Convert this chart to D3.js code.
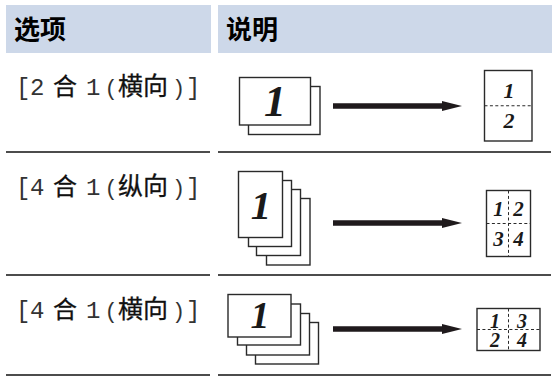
<!DOCTYPE html>
<html>
<head>
<meta charset="utf-8">
<script src="https://cdnjs.cloudflare.com/ajax/libs/d3/7.8.5/d3.min.js"></script>
<style>
  html, body { margin: 0; padding: 0; background: #fff; }
  svg { display: block; }
  .cjk { font-family: "Noto Sans CJK SC", sans-serif; }
  .mono { font-family: "Liberation Mono", monospace; }
  .digit { font-family: "Liberation Serif", serif; font-weight: bold; font-style: italic; fill: #1a1a1a; }
  .sheet { fill: #fff; stroke: #2a2a2a; stroke-width: 1.4; }
  .fold { stroke: #2a2a2a; stroke-width: 1; stroke-dasharray: 3 2.4; fill: none; }
</style>
</head>
<body>
<div id="svg_container"></div>
<script>
var headers = ['选项', '说明'];

// label of each row, split in runs because latin and cjk sizes differ
var optionLabels = [
  ['2', '横向'],
  ['4', '纵向'],
  ['4', '横向']
];
var stackDigit = ['1', '1', '1'];
var pageDigits = [['1', '2'], ['1', '2', '3', '4'], ['1', '3', '2', '4']];

var width = 552, height = 376;

var svg = d3.select('#svg_container')
  .append('svg')
    .attr('width', width)
    .attr('height', height);

// columns
var columns = [{x0: 6, x1: 211}, {x0: 218, x1: 552}];

// header band
svg.selectAll('rect.head')
  .data(columns)
  .enter().append('rect')
    .attr('class', 'head')
    .attr('x', function(d) { return d.x0; })
    .attr('y', 5)
    .attr('width', function(d) { return d.x1 - d.x0; })
    .attr('height', 48)
    .attr('fill', '#cdd8e9');

svg.selectAll('text.head')
  .data(headers)
  .enter().append('text')
    .attr('class', 'head cjk')
    .attr('x', function(d, i) { return columns[i].x0 + 8; })
    .attr('y', 38.5)
    .attr('font-size', 26)
    .attr('font-weight', 700)
    .text(function(d) { return d; });

// row rules
var ruleY = [152, 275, 375];
ruleY.forEach(function(y) {
  columns.forEach(function(c) {
    svg.append('line')
      .attr('x1', c.x0).attr('x2', c.x1 - 1)
      .attr('y1', y).attr('y2', y)
      .attr('stroke', '#111')
      .attr('stroke-width', 1.4);
  });
});

// option labels
var labelY = [94.5, 194.5, 318];
optionLabels.forEach(function(label, i) {
  var g = svg.append('g').attr('transform', 'translate(0,' + labelY[i] + ')');
  var runs = [
    {t: '[', x: 16, c: 'mono', s: 24},
    {t: label[0], x: 30, c: 'mono', s: 24},
    {t: '合', x: 53, c: 'cjk', s: 24},
    {t: '1', x: 86, c: 'mono', s: 24},
    {t: '(', x: 104.5, c: 'mono', s: 22},
    {t: label[1], x: 118, c: 'cjk', s: 25},
    {t: ')', x: 172, c: 'mono', s: 22},
    {t: ']', x: 186, c: 'mono', s: 24}
  ];
  g.selectAll('text')
    .data(runs)
    .enter().append('text')
      .attr('class', function(d) { return d.c; })
      .attr('x', function(d) { return d.x; })
      .attr('font-size', function(d) { return d.s; })
      .attr('fill', function(d) { return d.c === 'mono' ? '#333' : '#111'; })
      .attr('stroke', function(d) { return d.c === 'mono' ? 'none' : '#111'; })
      .attr('stroke-width', 0.3)
      .text(function(d) { return d.t; });
});

// stacks of source sheets, drawn back to front
var stacks = [
  {sheets: [[248.5, 86.5, 320, 134.5], [239.5, 77.5, 310.5, 125]], dx: 275, dy: 116, size: 44},
  {sheets: [[266.5, 198.5, 310, 265], [256.5, 189.5, 300.5, 255.5], [248.5, 180.5, 291.5, 246.5], [238.5, 171.5, 282.5, 237.5]], dx: 261, dy: 219, size: 41},
  {sheets: [[255.5, 322.5, 318.5, 364], [246.5, 313.5, 309.5, 355], [237.5, 304, 300.5, 345], [228, 294.5, 291, 337]], dx: 260, dy: 327.5, size: 38}
];

stacks.forEach(function(s, i) {
  svg.selectAll(null)
    .data(s.sheets)
    .enter().append('rect')
      .attr('class', 'sheet')
      .attr('x', function(d) { return d[0]; })
      .attr('y', function(d) { return d[1]; })
      .attr('width', function(d) { return d[2] - d[0]; })
      .attr('height', function(d) { return d[3] - d[1]; });
  svg.append('text')
    .attr('class', 'digit')
    .attr('x', s.dx)
    .attr('y', s.dy)
    .attr('text-anchor', 'middle')
    .attr('font-size', s.size)
    .text(stackDigit[i]);
});

// arrows
var arrowY = [106, 223, 329];
var line = d3.line();
arrowY.forEach(function(y) {
  svg.append('path')
    .attr('fill', '#1f1a1c')
    .attr('d', line([[333, y - 2.8], [442, y - 2.8], [442, y - 5], [462, y], [442, y + 5], [442, y + 2.8], [333, y + 2.8]]) + 'Z');
});

// result pages
var pages = [
  {x0: 484.5, x1: 532, y0: 70.5, y1: 141, vfold: false, size: 22, qx: [509], qy: [98.3, 127.5]},
  {x0: 486.5, x1: 530.5, y0: 190.5, y1: 256.5, vfold: true, size: 21, qx: [498.5, 518.5], qy: [216, 246]},
  {x0: 477, x1: 540, y0: 308.5, y1: 350.5, vfold: true, size: 20, qx: [495, 522], qy: [327.5, 346.5]}
];

pages.forEach(function(p, i) {
  var my = (p.y0 + p.y1) / 2, mx = (p.x0 + p.x1) / 2;
  svg.append('rect')
    .attr('class', 'sheet')
    .attr('x', p.x0).attr('y', p.y0)
    .attr('width', p.x1 - p.x0).attr('height', p.y1 - p.y0);
  svg.append('line').attr('class', 'fold')
    .attr('x1', p.x0).attr('x2', p.x1).attr('y1', my).attr('y2', my);
  if (p.vfold) {
    svg.append('line').attr('class', 'fold')
      .attr('x1', mx).attr('x2', mx).attr('y1', p.y0).attr('y2', p.y1);
  }
  svg.selectAll(null)
    .data(pageDigits[i])
    .enter().append('text')
      .attr('class', 'digit')
      .attr('text-anchor', 'middle')
      .attr('font-size', p.size)
      .attr('x', function(d, j) { return p.qx[j % p.qx.length]; })
      .attr('y', function(d, j) { return p.qy[Math.floor(j / p.qx.length)]; })
      .text(function(d) { return d; });
});
</script>
</body>
</html>
